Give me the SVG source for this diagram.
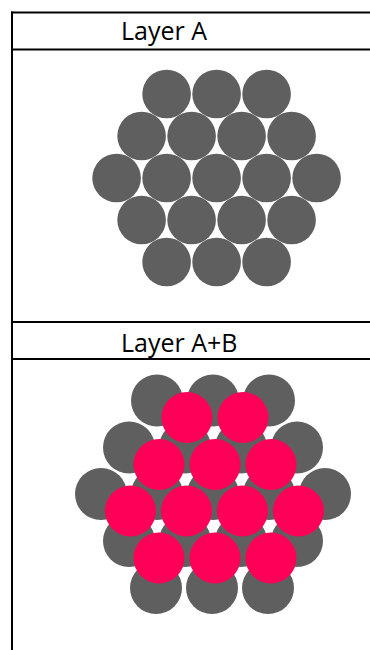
<svg xmlns="http://www.w3.org/2000/svg" width="370" height="650" viewBox="0 0 370 650">
<style>
.bg{fill:#ffffff}
.rule{stroke:#000000;stroke-width:2;fill:none}
.lbl{font-family:"Open Sans","Liberation Sans",sans-serif;font-size:25px;fill:#000000}
.a{fill:#5f5f5f}
.b{fill:#ff0058}
</style>
<defs>
<circle id="ca" r="24.3" class="a"/>
<circle id="cg" r="26" class="a"/>
<circle id="cp" r="25.5" class="b"/>
</defs>
<rect class="bg" x="0" y="0" width="370" height="650"/>
<g id="table">
<line class="rule" x1="11" y1="12.5" x2="370" y2="12.5"/>
<line class="rule" x1="11" y1="49.5" x2="370" y2="49.5"/>
<line class="rule" x1="11" y1="322" x2="370" y2="322"/>
<line class="rule" x1="11" y1="359" x2="370" y2="359"/>
<line class="rule" x1="12" y1="11.5" x2="12" y2="650"/>
</g>
<g id="label-a"><text class="lbl" x="121" y="40">Layer A</text></g>
<g id="layer-a">
<use href="#ca" x="166.6" y="94"/><use href="#ca" x="216.6" y="94"/><use href="#ca" x="266.6" y="94"/>
<use href="#ca" x="141.6" y="136"/><use href="#ca" x="191.6" y="136"/><use href="#ca" x="241.6" y="136"/><use href="#ca" x="291.6" y="136"/>
<use href="#ca" x="116.6" y="178"/><use href="#ca" x="166.6" y="178"/><use href="#ca" x="216.6" y="178"/><use href="#ca" x="266.6" y="178"/><use href="#ca" x="316.6" y="178"/>
<use href="#ca" x="141.6" y="220"/><use href="#ca" x="191.6" y="220"/><use href="#ca" x="241.6" y="220"/><use href="#ca" x="291.6" y="220"/>
<use href="#ca" x="166.6" y="262"/><use href="#ca" x="216.6" y="262"/><use href="#ca" x="266.6" y="262"/>
</g>
<g id="label-ab"><text class="lbl" x="121" y="352">Layer A+B</text></g>
<g id="layer-ab-a">
<use href="#cg" x="157" y="400.5"/><use href="#cg" x="213" y="400.5"/><use href="#cg" x="269" y="400.5"/>
<use href="#cg" x="129" y="447.5"/><use href="#cg" x="185" y="447.5"/><use href="#cg" x="241" y="447.5"/><use href="#cg" x="297" y="447.5"/>
<use href="#cg" x="101" y="494"/><use href="#cg" x="157" y="494"/><use href="#cg" x="213" y="494"/><use href="#cg" x="269" y="494"/><use href="#cg" x="325" y="494"/>
<use href="#cg" x="129" y="541"/><use href="#cg" x="185" y="541"/><use href="#cg" x="241" y="541"/><use href="#cg" x="297" y="541"/>
<use href="#cg" x="156" y="588"/><use href="#cg" x="212" y="588"/><use href="#cg" x="268" y="588"/>
</g>
<g id="layer-ab-b">
<use href="#cp" x="187" y="417.5"/><use href="#cp" x="243" y="417.5"/>
<use href="#cp" x="159" y="464.5"/><use href="#cp" x="215" y="464.5"/><use href="#cp" x="271" y="464.5"/>
<use href="#cp" x="130.5" y="511"/><use href="#cp" x="186.5" y="511"/><use href="#cp" x="242.5" y="511"/><use href="#cp" x="298.5" y="511"/>
<use href="#cp" x="159" y="558"/><use href="#cp" x="215" y="558"/><use href="#cp" x="271" y="558"/>
</g>
</svg>
